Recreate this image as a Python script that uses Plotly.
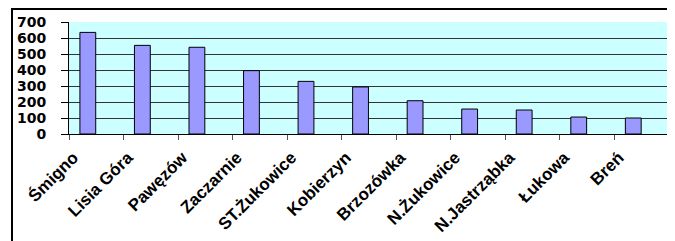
import plotly.graph_objects as go

categories = ["Śmigno", "Lisia Góra", "Pawęzów", "Zaczarnie", "ST.Żukowice", "Kobierzyn",
              "Brzozówka", "N.Żukowice", "N.Jastrząbka", "Łukowa", "Breń"]
values = [635, 554, 542, 396, 329, 294, 208, 156, 150, 106, 100]
y_ticks = [0, 100, 200, 300, 400, 500, 600, 700]

# page has an 8px body margin; figure coordinates = reference - 8
W, H = 667, 233
L, R, T, B = 61, 6, 14, 107
pw, ph = W - L - R, H - T - B

fig = go.Figure(go.Bar(
    x=categories, y=values,
    width=0.29, offset=-0.30,
    marker=dict(color="#9999FF", line=dict(color="black", width=1)),
))

fig.update_layout(
    width=W, height=H,
    margin=dict(l=L, r=R, t=T, b=B, pad=0, autoexpand=False),
    paper_bgcolor="white",
    plot_bgcolor="#CCFFFF",
    showlegend=False,
    font=dict(family="Liberation Sans, Arial", color="black"),
    xaxis=dict(
        type="category",
        automargin=False,
        tickangle=-45,
        tickfont=dict(family="Liberation Sans, Arial", size=17, weight="bold"),
        ticks="outside", tickson="boundaries", ticklen=5, tickcolor="#555555",
        showline=True, linecolor="black", linewidth=1,
        showgrid=False,
        ticklabelshift=-23, ticklabelstandoff=6,
        range=[-0.5, 10.5],
    ),
    yaxis=dict(
        automargin=False,
        range=[0, 700],
        tickvals=y_ticks,
        tickfont=dict(family="DejaVu Sans", size=14, weight="bold"),
        ticks="outside", ticklen=7, tickcolor="black",
        showline=True, linecolor="black", linewidth=1,
        showgrid=True, gridcolor="#333333", gridwidth=1,
        zeroline=True, zerolinecolor="black", zerolinewidth=1,
        ticklabelstandoff=12,
    ),
    shapes=[dict(
        type="rect", xref="paper", yref="paper",
        x0=(4 - L) / pw, x1=(662 - L) / pw,
        y0=-(B + 20) / ph, y1=1 + (T - 1) / ph,
        line=dict(color="black", width=2),
        layer="above",
    )],
)

fig.write_html("out.html")
